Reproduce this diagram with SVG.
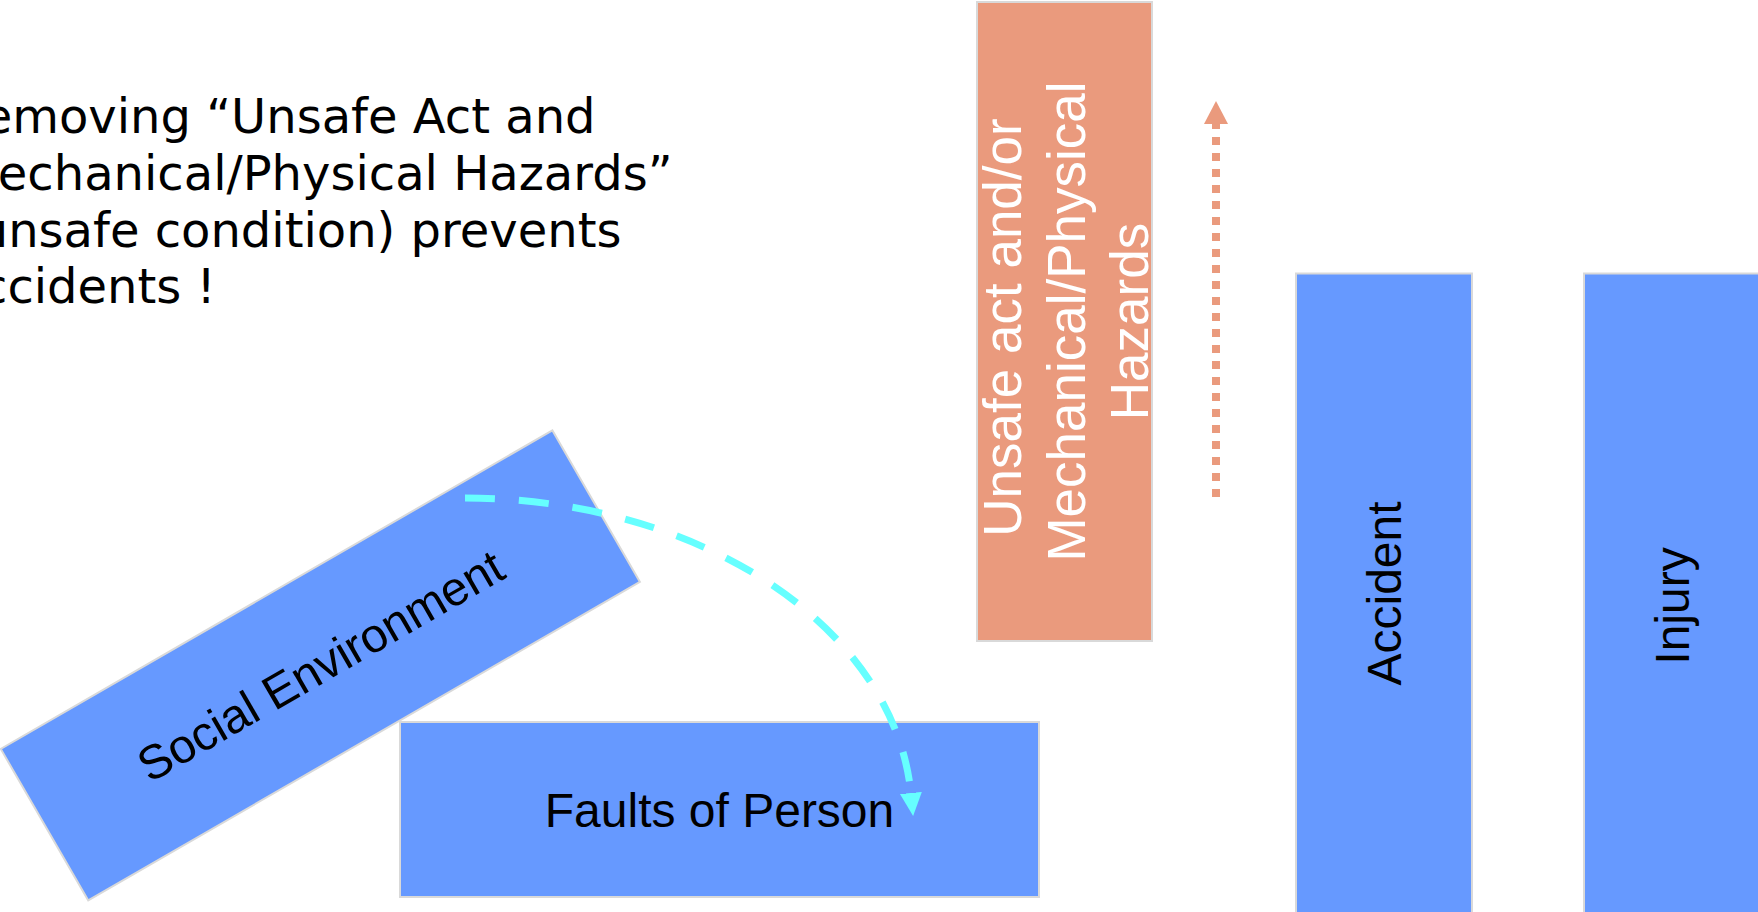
<svg xmlns="http://www.w3.org/2000/svg" width="1758" height="912" viewBox="0 0 1758 912">
<style>
.blue{fill:#6699FF;stroke:#D9D9D9;stroke-width:2}
.orange{fill:#EA9A7D;stroke:#D9D9D9;stroke-width:2}
.lbl{font-family:"Liberation Sans",Arial,sans-serif;font-size:48px;fill:#000}
.olbl{font-family:"Liberation Sans",Arial,sans-serif;font-size:53px;fill:#FFFFFF}
.note{font-family:"DejaVu Sans",Verdana,sans-serif;font-size:48px;fill:#000}
</style>
<defs>
<marker id="cyanHead" markerUnits="userSpaceOnUse" markerWidth="24" markerHeight="26" refX="1" refY="11" orient="auto" viewBox="0 0 24 22">
<path d="M0,0 L23,11 L0,22 Z" fill="#66FFFF"/>
</marker>
<marker id="orangeHead" markerUnits="userSpaceOnUse" markerWidth="24" markerHeight="26" refX="1" refY="12" orient="auto" viewBox="0 0 24 24">
<path d="M0,0 L23,12 L0,24 Z" fill="#EA9A7D"/>
</marker>
</defs>
<rect width="1758" height="912" fill="#FFFFFF"/>
<g id="note">
<text class="note"><tspan x="-48.5" y="133.3">Removing “Unsafe Act and</tspan><tspan x="-43.6" y="190">Mechanical/Physical Hazards”</tspan><tspan x="-41" y="246.7">(unsafe condition) prevents</tspan><tspan x="-51" y="303.3">Accidents !</tspan></text>
</g>
<g id="social-environment" transform="translate(320.3,665.4) rotate(-30)">
<rect class="blue" x="-318.5" y="-87.5" width="637" height="175"/>
<text class="lbl" x="0" y="17" text-anchor="middle">Social Environment</text>
</g>
<g id="faults-of-person">
<rect class="blue" x="400" y="722" width="639" height="175"/>
<text class="lbl" x="719.5" y="827" text-anchor="middle">Faults of Person</text>
</g>
<g id="unsafe-act">
<rect class="orange" x="977" y="2" width="175" height="639"/>
<text class="olbl" transform="translate(1084.5,321.5) rotate(-90)" text-anchor="middle"><tspan x="-6" y="-63.6">Unsafe act and/or</tspan><tspan x="0" y="0">Mechanical/Physical</tspan><tspan x="0" y="63.6">Hazards</tspan></text>
</g>
<g id="accident">
<rect class="blue" x="1296" y="273.5" width="176" height="700"/>
<text class="lbl" transform="translate(1401,593.5) rotate(-90)" text-anchor="middle">Accident</text>
</g>
<g id="injury">
<rect class="blue" x="1584" y="273.5" width="176" height="700"/>
<text class="lbl" transform="translate(1689,606) rotate(-90)" text-anchor="middle">Injury</text>
</g>
<g id="connectors">
<path d="M465,498 A447,318 0 0 1 911,794" fill="none" stroke="#66FFFF" stroke-width="7" stroke-dasharray="30 24" marker-end="url(#cyanHead)"/>
<path d="M1216,497 L1216,123" fill="none" stroke="#EA9A7D" stroke-width="8" stroke-dasharray="8 8" marker-end="url(#orangeHead)"/>
</g>
</svg>
